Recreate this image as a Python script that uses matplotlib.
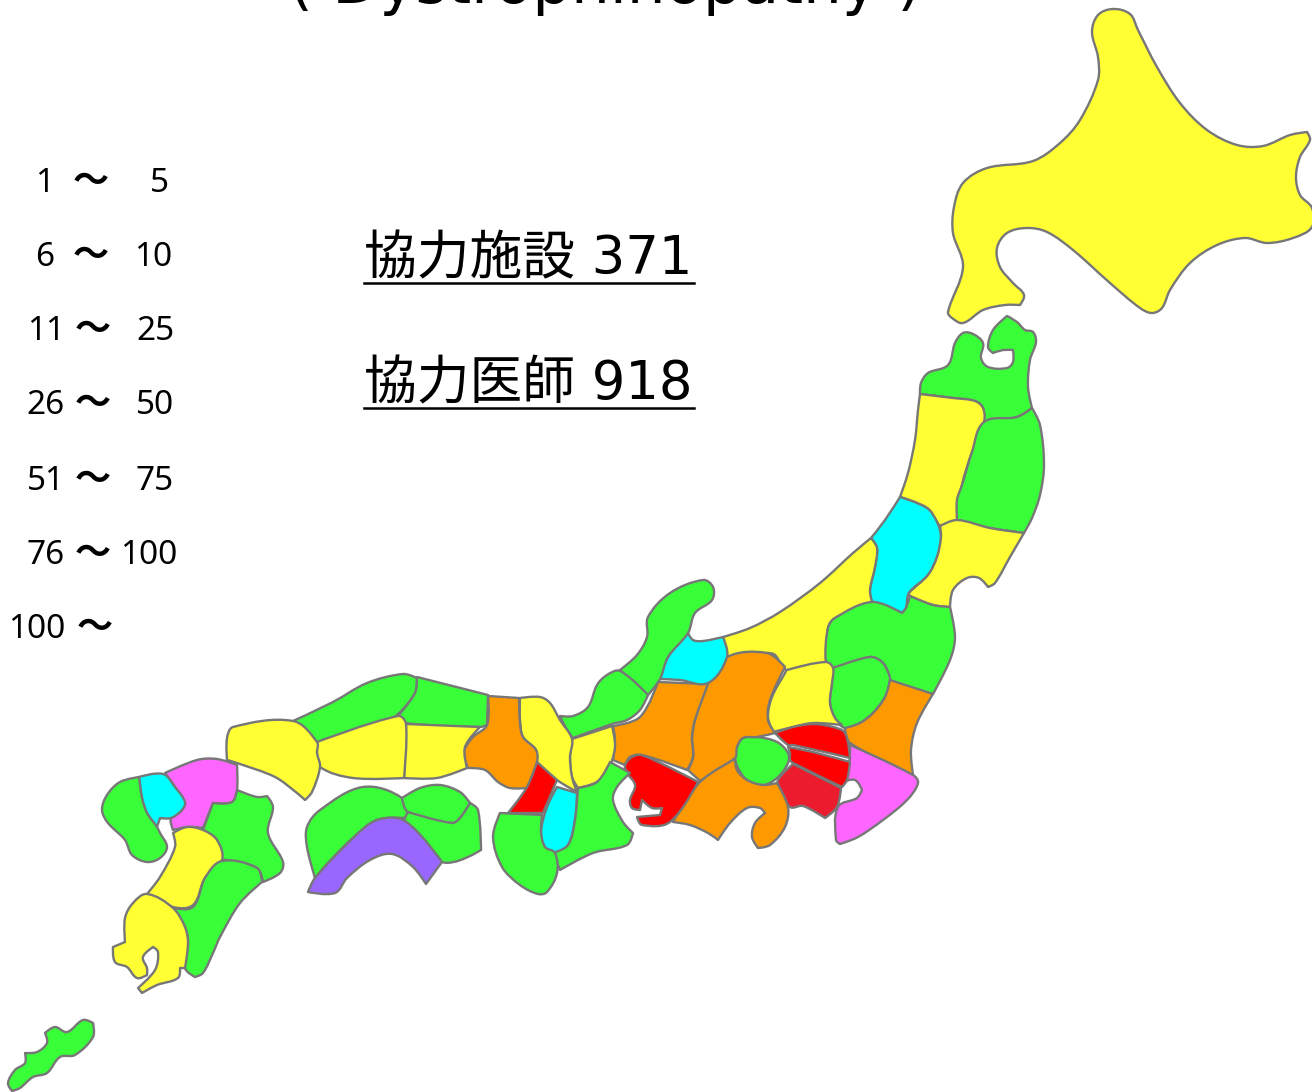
import matplotlib
matplotlib.use('Agg')
import matplotlib.pyplot as plt
import numpy as np
from matplotlib.patches import PathPatch
from matplotlib.path import Path

GREEN = '#39FF39'
YELLOW = '#FFFF33'
CYAN = '#00FFFF'
ORANGE = '#FF9900'
RED = '#FF0000'
CRIMSON = '#EC1C2E'
PINK = '#FF66FF'
PURPLE = '#9966FF'
EDGE = '#777777'

# outlines, in image pixels
hokkaido = [(1092,32),(1098,15),(1113,9),(1130,14),(1138,30),(1157,67),(1180,103),(1207,130),(1237,145),(1263,146),(1290,135),(1307,132),(1310,140),(1300,157),(1296,177),(1300,195),(1312,208),(1312,227),(1293,238),(1267,243),(1245,238),(1217,245),(1190,263),(1170,290),(1162,308),(1152,313),(1140,308),(1110,283),(1073,250),(1047,232),(1027,228),(1007,233),(997,248),(1000,267),(1013,283),(1024,295),(1020,305),(1005,305),(983,310),(963,323),(952,318),(948,312),(963,267),(953,233),(954,207),(963,183),(987,168),(1033,161),(1060,143),(1080,120),(1098,80),(1098,57)]
aomori = [(920,394),(921,383),(928,373),(948,365),(955,343),(963,333),(973,334),(983,343),(981,358),(988,367),(1007,368),(1013,362),(1013,350),(1003,350),(993,353),(988,347),(993,330),(1007,316),(1017,322),(1025,330),(1033,332),(1036,342),(1030,360),(1028,387),(1032,408),(1017,417),(984,422),(983,408),(975,401),(953,398)]
akita = [(920,394),(953,398),(975,401),(983,408),(984,422),(972,452),(962,485),(957,520),(940,526),(937,522),(927,508),(900,497),(908,473),(915,440),(918,410)]
iwate = [(984,422),(1017,417),(1032,408),(1040,425),(1044,465),(1040,495),(1032,518),(1024,533),(990,528),(957,520),(957,500),(962,485),(972,452)]
niigata_n = [(900,497),(927,508),(937,522),(941,537),(937,557),(928,575),(909,593),(906,608),(902,613),(873,602),(870,590),(875,567),(877,548),(871,538),(885,520)]
fukushima = [(940,526),(957,520),(990,528),(1024,533),(1010,557),(995,583),(988,587),(979,578),(967,578),(953,590),(950,607),(933,605),(910,596),(909,593),(928,575),(937,557),(941,537)]
niigata_s = [(871,538),(853,553),(820,583),(780,612),(750,628),(723,637),(727,657),(767,653),(775,655),(787,670),(826,662),(828,628),(835,618),(872,602),(870,590),(875,567),(877,548)]
tochigi = [(872,602),(902,613),(906,608),(910,596),(933,605),(950,607),(955,637),(950,660),(933,694),(890,680),(888,672),(882,662),(870,657),(833,668),(826,662),(828,628),(835,618)]
saitama_n = [(833,668),(870,657),(882,662),(888,672),(890,680),(885,697),(873,713),(860,723),(845,728),(835,718),(830,703),(832,683)]
gunma = [(787,670),(826,662),(833,668),(832,683),(830,703),(835,718),(842,725),(813,723),(793,727),(773,732),(768,717),(772,697),(785,673)]
ibaraki = [(890,680),(933,694),(917,723),(911,750),(913,775),(850,743),(845,728),(860,723),(873,713),(885,697)]
chiba = [(850,745),(913,775),(918,783),(907,800),(883,820),(858,837),(840,844),(836,840),(838,807),(857,798),(862,790),(855,780),(843,782),(849,765)]
saitama = [(775,733),(793,727),(813,724),(833,727),(845,733),(850,758),(793,745),(788,745)]
tokyo = [(788,747),(813,752),(850,762),(847,780),(842,787),(793,763),(790,760),(790,753)]
kanagawa = [(793,764),(841,788),(837,807),(825,818),(803,806),(790,807),(780,790),(778,780)]
yamanashi = [(737,747),(743,738),(757,737),(777,742),(788,753),(788,763),(777,778),(763,785),(747,780),(738,768),(735,757)]
nagano = [(727,657),(767,653),(785,667),(770,700),(768,720),(775,733),(757,737),(743,738),(737,747),(735,758),(700,781),(688,770),(693,757),(692,737),(695,720),(708,683)]
shizuoka = [(735,759),(737,770),(747,780),(763,785),(777,783),(788,807),(785,827),(770,845),(758,848),(752,837),(755,823),(765,813),(760,808),(747,808),(730,823),(718,840),(708,833),(690,825),(673,822),(700,782)]
aichi = [(632,757),(642,755),(698,782),(670,822),(642,825),(637,817),(660,815),(662,808),(652,808),(642,800),(640,810),(632,808),(630,800),(635,785),(627,773),(625,765)]
gifu = [(613,726),(640,717),(658,682),(708,684),(695,720),(692,737),(693,757),(687,770),(642,755),(630,757),(625,765),(613,760),(615,740)]
toyama = [(688,633),(693,640),(703,641),(723,637),(727,657),(708,683),(680,680),(660,679),(668,657)]
ishikawa = [(620,670),(637,655),(647,637),(648,617),(670,593),(703,580),(713,587),(712,600),(695,613),(688,633),(668,657),(660,679),(648,695)]
fukui = [(560,716),(573,716),(588,707),(597,685),(607,675),(620,671),(648,695),(640,710),(627,720),(612,724),(573,738),(567,730)]
shiga = [(572,739),(612,726),(615,747),(608,770),(597,782),(578,788),(572,777),(570,757)]
kyoto = [(520,698),(540,697),(550,703),(560,720),(572,739),(570,757),(572,777),(577,792),(557,780),(537,762),(536,750),(523,737),(520,720)]
hyogo = [(488,696),(519,698),(520,723),(523,737),(536,750),(537,762),(527,788),(510,788),(498,782),(485,770),(468,768),(464,752),(473,737),(487,725)]
osaka = [(537,762),(557,780),(543,813),(508,813),(527,787)]
nara = [(557,787),(577,793),(575,820),(568,845),(555,853),(545,847),(541,832),(547,807)]
mie = [(578,788),(597,782),(610,762),(630,773),(617,787),(613,800),(623,822),(633,833),(627,845),(593,853),(560,870),(553,853),(568,845),(575,820)]
wakayama = [(500,813),(542,815),(541,832),(545,847),(555,853),(557,873),(547,892),(538,894),(520,885),(502,867),(493,837)]
tottori = [(293,721),(333,702),(367,683),(403,674),(417,678),(415,693),(397,715),(377,727),(347,735),(317,742)]
shimane = [(417,677),(488,695),(487,725),(480,727),(405,723),(398,716),(415,693)]
okayama = [(406,724),(480,727),(465,747),(467,768),(437,778),(404,778)]
hiroshima = [(317,742),(398,716),(406,724),(404,778),(353,778),(320,767),(317,753)]
yamaguchi = [(233,727),(293,721),(317,742),(317,753),(320,767),(312,792),(305,800),(297,793),(275,777),(237,763),(227,760),(227,738)]
fukuoka = [(165,773),(197,760),(217,759),(237,765),(237,790),(232,802),(213,803),(203,828),(188,827),(173,830),(171,818),(185,803),(175,787)]
saga = [(139,777),(163,774),(175,787),(185,802),(182,810),(171,818),(160,818),(157,827),(147,813),(142,798)]
nagasaki = [(102,810),(107,795),(120,782),(139,777),(142,798),(147,813),(157,827),(160,833),(167,847),(160,858),(147,862),(132,855),(125,840),(108,823)]
oita = [(237,790),(257,797),(267,796),(273,807),(268,833),(283,862),(280,873),(263,882),(257,868),(227,860),(222,860),(217,840),(203,830),(213,803),(232,802)]
kumamoto = [(173,833),(187,827),(203,830),(217,840),(222,860),(205,878),(193,905),(173,907),(147,894),(160,877),(175,847)]
miyazaki = [(222,861),(257,868),(262,882),(240,903),(220,937),(213,953),(203,973),(195,977),(185,968),(188,943),(185,927),(173,908),(193,907),(205,878)]
kagoshima = [(147,894),(173,908),(185,927),(188,943),(185,968),(180,968),(178,978),(157,985),(142,993),(138,988),(155,970),(158,952),(153,947),(143,957),(147,968),(147,975),(137,978),(127,967),(115,962),(113,947),(125,942),(125,918),(133,903)]
ehime = [(363,787),(402,798),(408,818),(377,820),(353,838),(328,863),(315,878),(307,847),(307,827),(320,810)]
kagawa = [(402,798),(420,788),(440,785),(460,792),(470,803),(460,818),(452,823),(408,812)]
tokushima = [(408,812),(452,823),(460,818),(470,803),(478,810),(481,850),(442,862),(405,822)]
kochi = [(377,820),(405,821),(442,862),(426,884),(413,867),(392,854),(370,860),(347,878),(335,893),(308,892),(315,878),(353,838)]
okinawa = [(8,1083),(15,1070),(25,1063),(25,1053),(37,1052),(47,1043),(45,1033),(55,1027),(67,1032),(83,1020),(93,1023),(93,1037),(75,1055),(60,1057),(47,1073),(33,1077),(20,1088),(12,1091)]

regions = [hokkaido, aomori, akita, iwate, niigata_n, fukushima, niigata_s, tochigi, saitama_n, gunma,
           ibaraki, chiba, saitama, tokyo, kanagawa, yamanashi, nagano, shizuoka, aichi, gifu, toyama,
           ishikawa, fukui, shiga, kyoto, hyogo, osaka, nara, mie, wakayama, tottori, shimane, okayama,
           hiroshima, yamaguchi, fukuoka, saga, nagasaki, oita, kumamoto, miyazaki, kagoshima, ehime,
           kagawa, tokushima, kochi, okinawa]
region_colors = [YELLOW, GREEN, YELLOW, GREEN, CYAN, YELLOW, YELLOW, GREEN, GREEN, YELLOW,
                 ORANGE, PINK, RED, RED, CRIMSON, GREEN, ORANGE, ORANGE, RED, ORANGE, CYAN,
                 GREEN, GREEN, YELLOW, YELLOW, ORANGE, RED, CYAN, GREEN, GREEN, GREEN, GREEN, YELLOW,
                 YELLOW, YELLOW, PINK, CYAN, GREEN, GREEN, YELLOW, GREEN, YELLOW, GREEN,
                 GREEN, GREEN, PURPLE, GREEN]

legend_low = ['1', '6', '11', '26', '51', '76', '100']
legend_high = ['5', '10', '25', '50', '75', '100', '']

title = '( Dystrophinopathy )'
summary = ['協力施設 371', '協力医師 918']

# layout
legend_y = [180, 254, 329, 403, 478, 552, 627]
legend_low_right = [54, 54, 65, 65, 65, 65, 65]
legend_tilde_x = [91, 91, 93, 93, 93, 93, 95]
legend_high_right = [169, 172, 174, 174, 174, 177, 177]
summary_y = [259, 384]


def curved_outline(points, sharp_deg=65):
    # bezier through the read points, keeps the real corners sharp
    pts = np.array(points, dtype=float)
    n = len(pts)
    verts = [pts[0]]
    codes = [Path.MOVETO]
    dirs = []
    for i in range(n):
        a = pts[i] - pts[i - 1]
        b = pts[(i + 1) % n] - pts[i]
        cos = a @ b / (np.linalg.norm(a) * np.linalg.norm(b))
        if np.degrees(np.arccos(np.clip(cos, -1, 1))) > sharp_deg:
            dirs.append(np.zeros(2))
        else:
            t = pts[(i + 1) % n] - pts[i - 1]
            dirs.append(t / np.linalg.norm(t))
    for i in range(n):
        j = (i + 1) % n
        seg = np.linalg.norm(pts[j] - pts[i]) / 3
        verts += [pts[i] + dirs[i] * seg, pts[j] - dirs[j] * seg, pts[j]]
        codes += [Path.CURVE4] * 3
    verts.append(pts[0])
    codes.append(Path.CLOSEPOLY)
    return Path(verts, codes)


fig = plt.figure(figsize=(13.12, 10.92), dpi=100)
ax = fig.add_axes([0, 0, 1, 1])
ax.set_xlim(0, 1312)
ax.set_ylim(1092, 0)
ax.axis('off')

for outline, color in zip(regions, region_colors):
    ax.add_patch(PathPatch(curved_outline(outline), facecolor=color, edgecolor=EDGE, linewidth=1.7, joinstyle='round'))

ax.text(605, 3, title, family='DejaVu Sans', fontsize=44, ha='center', va='baseline', color='black')

# legend rows, swatches are cut off by the slide edge
for i, y in enumerate(legend_y):
    ax.text(legend_low_right[i], y + 3, legend_low[i], family='Noto Sans', fontsize=24, ha='right', va='center')
    ax.text(legend_tilde_x[i], y + 1, '～', family='Noto Sans CJK JP', fontsize=26, fontweight='bold', ha='center', va='center')
    if legend_high[i]:
        ax.text(legend_high_right[i], y + 3, legend_high[i], family='Noto Sans', fontsize=24, ha='right', va='center')

for label, y in zip(summary, summary_y):
    ax.text(364, y, label, family=['DejaVu Sans', 'Noto Sans CJK JP'], fontsize=38, ha='left', va='center')
    ax.plot([364, 694], [y + 24, y + 24], color='black', lw=1.8)

fig.savefig('out.png', dpi=100, facecolor='white')
